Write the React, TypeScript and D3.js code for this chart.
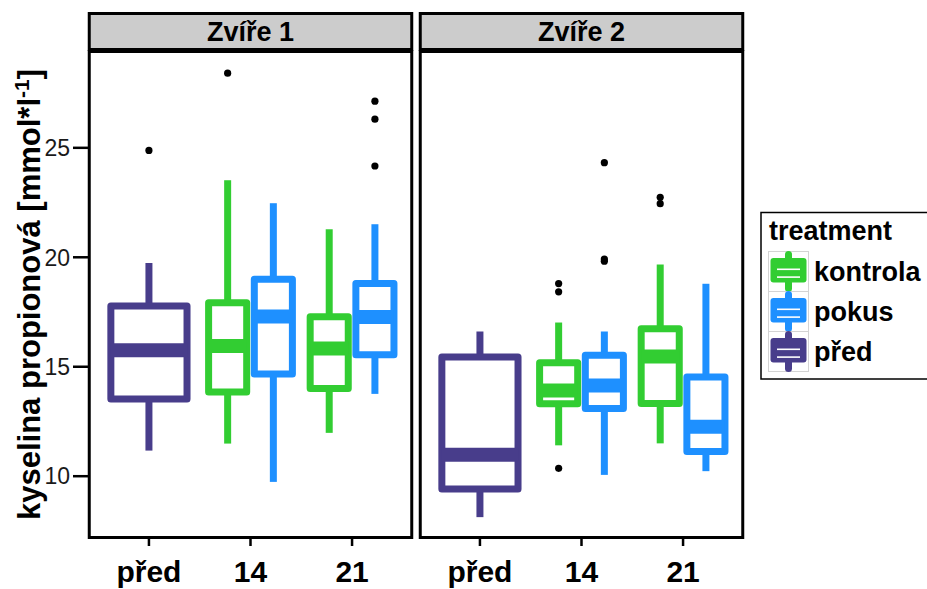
import React from 'react'
import * as d3 from 'd3'

// facets, x categories and fill groups
const panels = ['Zvíře 1', 'Zvíře 2']
const days = ['před', '14', '21']
const treatments = ['kontrola', 'pokus', 'před']
const treatColors = ['#32CD32', '#1E90FF', '#483D8B']
const yTicks = [10, 15, 20, 25]

// one entry per box
const boxPanel = [0, 0, 0, 0, 0, 1, 1, 1, 1, 1]
const boxDay = ['před', '14', '14', '21', '21', 'před', '14', '14', '21', '21']
const boxTreat = ['před', 'kontrola', 'pokus', 'kontrola', 'pokus', 'před', 'kontrola', 'pokus', 'kontrola', 'pokus']
const whiskLow = [11.17, 11.49, 9.74, 11.98, 13.76, 8.13, 11.41, 10.06, 11.5, 10.23]
const q1 = [13.53, 13.85, 14.67, 14.01, 15.55, 9.41, 13.31, 13.09, 13.32, 11.13]
const med = [15.75, 15.95, 17.3, 15.83, 17.27, 10.98, 13.91, 14.14, 15.47, 12.26]
const q3 = [17.78, 17.92, 19.0, 17.28, 18.8, 15.45, 15.18, 15.53, 16.73, 14.53]
const whiskHigh = [19.74, 23.52, 22.47, 21.28, 21.51, 16.61, 17.02, 16.61, 19.67, 18.79]
const outliers = [
  [24.88],
  [28.41],
  [],
  [],
  [24.17, 26.31, 27.13],
  [],
  [10.36, 18.42, 18.8],
  [19.82, 19.92, 24.32],
  [22.45, 22.74],
  [],
]

const W = 927
const H = 589
const font = '"Liberation Sans", Arial, Helvetica, sans-serif'

const panelTop = 51.5
const panelBottom = 537.5
const stripTop = 13.5
const panelLeft = [88, 419]
const panelWidth = 325

export default function App() {
  const y = d3.scaleLinear().domain([7.2, 29.4]).range([panelBottom, panelTop])
  const color = d3.scaleOrdinal<string, string>().domain(treatments).range(treatColors)
  const xScales = panelLeft.map(l =>
    d3.scalePoint<string>().domain(days).range([l, l + panelWidth]).padding(0.6)
  )
  const step = xScales[0].step()
  const lw = 7

  const boxes = boxPanel.map((p, i) => {
    const x = xScales[p]
    const nInDay = boxDay.filter((d, j) => d === boxDay[i] && boxPanel[j] === p).length
    let cx = x(boxDay[i]) as number
    let w = 0.75 * step
    if (nInDay > 1) {
      // dodge width 0.9, box width 0.75
      const k = boxTreat[i] === 'kontrola' ? -1 : 1
      cx += k * 0.225 * step
      w = 0.375 * step
    }
    return { i, cx, w, col: color(boxTreat[i]) }
  })

  return (
    <svg width={W} height={H} style={{ position: 'absolute', left: 0, top: 0, background: '#fff' }} fontFamily={font}>
      {/* y title */}
      <text
        transform={`translate(40, ${(panelTop + panelBottom) / 2}) rotate(-90)`}
        textAnchor="middle"
        fontWeight="bold"
        fontSize={31}
      >
        kyselina propionová [mmol*l<tspan dy={-11} fontSize={21}>-1</tspan>
        <tspan dy={11}>]</tspan>
      </text>

      {/* y axis ticks */}
      {yTicks.map(t => (
        <g key={t}>
          <line x1={73} x2={88} y1={y(t)} y2={y(t)} stroke="#000" strokeWidth={2.5} />
          <text x={70} y={y(t)} dy="0.36em" textAnchor="end" fontSize={23} fill="#1a1a1a">
            {t}
          </text>
        </g>
      ))}

      {panels.map((name, p) => {
        const l = panelLeft[p]
        const x = xScales[p]
        return (
          <g key={name}>
            {/* strip */}
            <rect x={l + 1.25} y={stripTop} width={panelWidth - 2.5} height={36} fill="#CCCCCC" stroke="#000" strokeWidth={3} />
            <text x={l + panelWidth / 2} y={41} textAnchor="middle" fontWeight="bold" fontSize={27}>
              {name}
            </text>
            {/* panel bg */}
            <rect x={l} y={panelTop} width={panelWidth} height={panelBottom - panelTop} fill="#fff" />
            {/* x ticks */}
            {days.map(d => (
              <g key={d}>
                <line x1={x(d)} x2={x(d)} y1={539} y2={546} stroke="#000" strokeWidth={2.5} />
                <text x={x(d)} y={582} textAnchor="middle" fontWeight="bold" fontSize={30}>
                  {d}
                </text>
              </g>
            ))}
            {/* boxes */}
            {boxes
              .filter(b => boxPanel[b.i] === p)
              .map(b => (
                <g key={b.i}>
                  <line x1={b.cx} x2={b.cx} y1={y(q3[b.i])} y2={y(whiskHigh[b.i])} stroke={b.col} strokeWidth={lw} />
                  <line x1={b.cx} x2={b.cx} y1={y(q1[b.i])} y2={y(whiskLow[b.i])} stroke={b.col} strokeWidth={lw} />
                  <rect
                    x={b.cx - b.w / 2}
                    y={y(q3[b.i])}
                    width={b.w}
                    height={y(q1[b.i]) - y(q3[b.i])}
                    fill="#fff"
                    stroke={b.col}
                    strokeWidth={lw}
                    strokeLinejoin="round"
                  />
                  <line x1={b.cx - b.w / 2} x2={b.cx + b.w / 2} y1={y(med[b.i])} y2={y(med[b.i])} stroke={b.col} strokeWidth={lw * 2} />
                  {outliers[b.i].map((o, k) => (
                    <circle key={k} cx={b.cx} cy={y(o)} r={3.6} fill="#000" />
                  ))}
                </g>
              ))}
            {/* panel border */}
            <rect x={l + 1.25} y={panelTop} width={panelWidth - 2.5} height={panelBottom - panelTop} fill="none" stroke="#000" strokeWidth={3} />
          </g>
        )
      })}

      {/* legend */}
      <g>
        <rect x={761} y={212.5} width={180} height={166.5} fill="#fff" stroke="#000" strokeWidth={1.5} />
        <text x={769} y={240} fontWeight="bold" fontSize={27}>
          treatment
        </text>
        {treatments.map((t, i) => {
          const ky = 251.5 + i * 40
          const col = color(t)
          return (
            <g key={t}>
              <rect x={768.5} y={ky} width={40} height={40} fill="#fff" stroke="#d4d4d4" strokeWidth={1} />
              <line x1={788.5} x2={788.5} y1={ky + 3} y2={ky + 37} stroke={col} strokeWidth={lw} strokeLinecap="round" />
              <rect x={770.5} y={ky + 6.5} width={36} height={24.5} rx={3} fill={col} />
              <line x1={777} x2={800} y1={ky + 17.8} y2={ky + 17.8} stroke="#fff" strokeWidth={1.6} />
              <line x1={777} x2={800} y1={ky + 25.6} y2={ky + 25.6} stroke="#fff" strokeWidth={1.6} />
              <text x={814} y={ky + 29.5} fontWeight="bold" fontSize={27}>
                {t}
              </text>
            </g>
          )
        })}
      </g>
    </svg>
  )
}
